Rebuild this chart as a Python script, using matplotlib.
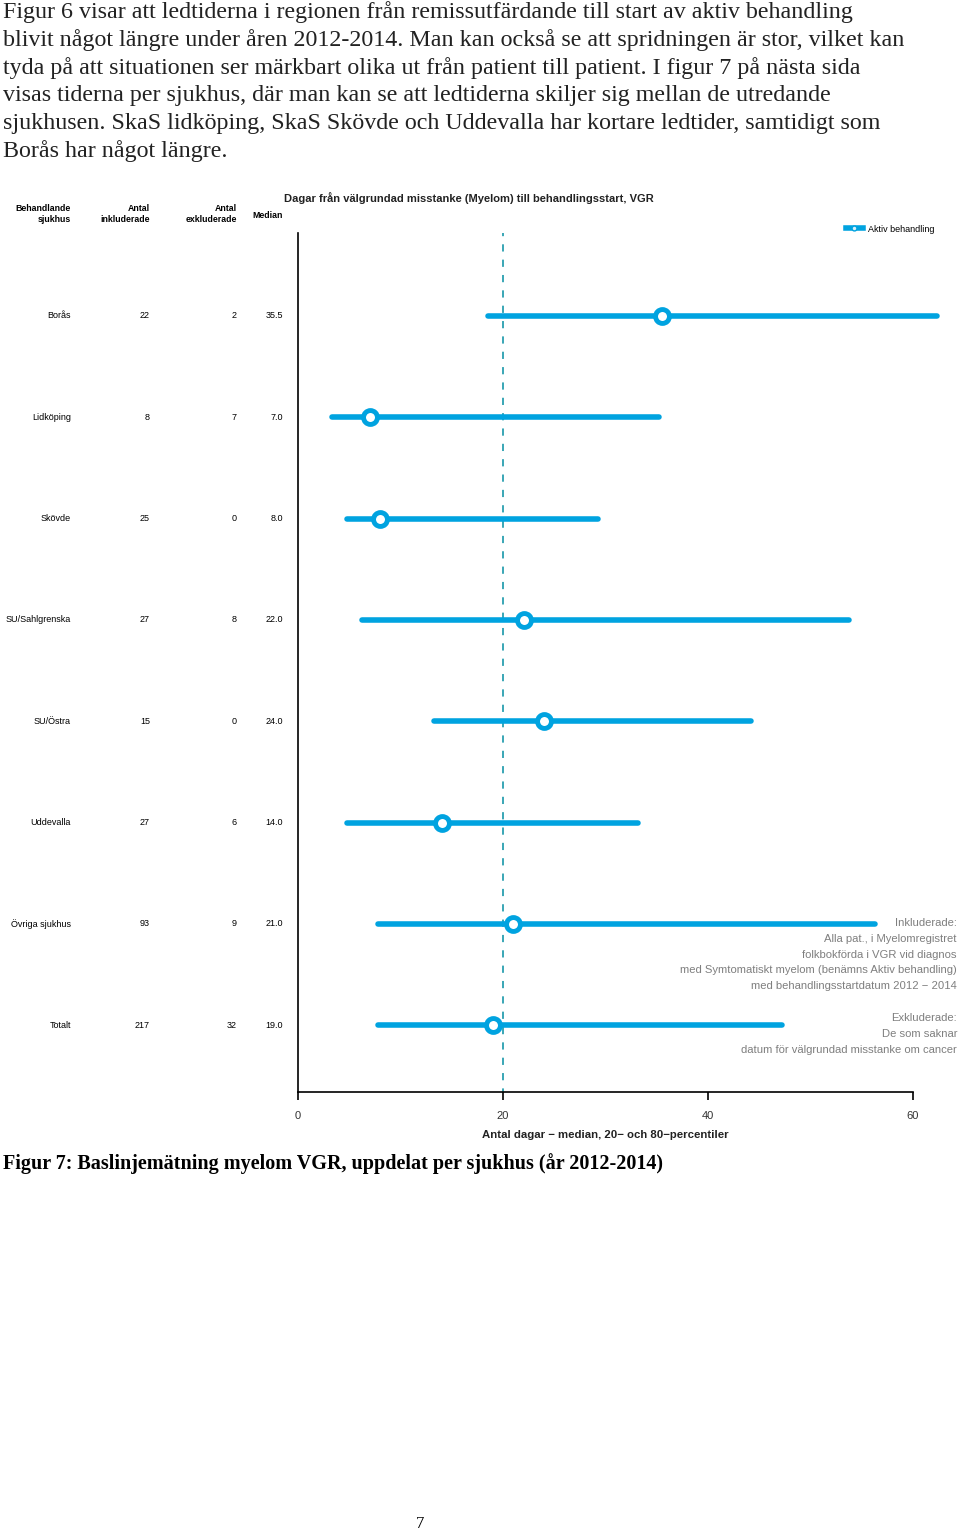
import numpy as np
import matplotlib.pyplot as plt
from matplotlib.lines import Line2D
from matplotlib.transforms import blended_transform_factory

# data
hospitals = ['Borås', 'Lidköping', 'Skövde', 'SU/Sahlgrenska', 'SU/Östra',
             'Uddevalla', 'Övriga sjukhus', 'Totalt']
n_incl = [22, 8, 25, 27, 15, 27, 93, 217]
n_excl = [2, 7, 0, 8, 0, 6, 9, 32]
median = [35.5, 7.0, 8.0, 22.0, 24.0, 14.0, 21.0, 19.0]
p20 = [18.5, 3.3, 4.8, 6.2, 13.3, 4.8, 7.8, 7.8]
p80 = [62.3, 35.2, 29.3, 53.8, 44.2, 33.2, 56.3, 47.2]
target = 20
xticks = [0, 20, 40, 60]

W, H = 960, 1534
blue = '#00a3e0'
teal = '#2a9fb0'
grey = '#7f7f7f'

plt.rcParams['font.family'] = ['Liberation Sans', 'DejaVu Sans']
fig = plt.figure(figsize=(W / 100, H / 100), dpi=100)

def fx(px):
    return px / W

def fy(py):
    return 1 - py / H

# page text above the chart
body = ["Figur 6 visar att ledtiderna i regionen från remissutfärdande till start av aktiv behandling",
        "blivit något längre under åren 2012-2014. Man kan också se att spridningen är stor, vilket kan",
        "tyda på att situationen ser märkbart olika ut från patient till patient. I figur 7 på nästa sida",
        "visas tiderna per sjukhus, där man kan se att ledtiderna skiljer sig mellan de utredande",
        "sjukhusen. SkaS lidköping, SkaS Skövde och Uddevalla har kortare ledtider, samtidigt som",
        "Borås har något längre."]
for i, line in enumerate(body):
    fig.text(fx(3), fy(12 + i * 27.8), line, family='Liberation Serif', fontsize=17.25,
             va='center', ha='left', color='#222222')

fig.text(fx(3), fy(1164), "Figur 7: Baslinjemätning myelom VGR, uppdelat per sjukhus (år 2012-2014)",
         family='Liberation Serif', fontsize=14.5, fontweight='bold', va='center', ha='left')
fig.text(fx(420), fy(1524), "7", family='Liberation Serif', fontsize=12, va='center', ha='center')

# chart axes
x0px, scale = 298, 10.25
left_px, right_px, top_px, bot_px = 298, 945, 233, 1092
ax = fig.add_axes([fx(left_px), fy(bot_px), fx(right_px - left_px), (bot_px - top_px) / H])
ax.set_xlim(0, (right_px - x0px) / scale)
row0, rstep = 316, 101.3
ax.set_ylim((bot_px - row0) / rstep, (top_px - row0) / rstep)

y = np.arange(len(hospitals))
ax.axvline(target, color=teal, lw=1.3, ls=(2, (4, 4.5)), zorder=1)
ax.hlines(y, p20, p80, color=blue, lw=4, capstyle='round', zorder=2)
ax.plot(median, y, 'o', ms=10, mfc='white', mec=blue, mew=3.5, zorder=3, clip_on=False)

for s in ['top', 'right']:
    ax.spines[s].set_visible(False)
ax.spines['bottom'].set_bounds(0, 60)
ax.spines['left'].set_linewidth(1.2)
ax.spines['bottom'].set_linewidth(1.2)
ax.set_yticks([])
ax.set_xticks(xticks)
ax.tick_params(axis='x', length=6, width=1.2, pad=8, labelsize=8, labelcolor='#333333')
ax.set_xlabel("Antal dagar − median, 20− och 80−percentiler", fontsize=8.2,
              fontweight='bold', color='#222222', labelpad=6)
ax.xaxis.label.set_x((x0px + 30 * scale - left_px) / (right_px - left_px))

ax.legend(handles=[Line2D([], [], color=blue, lw=4, marker='o', ms=3.5, mfc='#d8f0fa', mec=blue, mew=1)],
          labels=['Aktiv behandling'], loc='center right', frameon=False, fontsize=6.5,
          handlelength=1.9, handletextpad=0.6,
          bbox_to_anchor=(fx(943), fy(229)), bbox_transform=fig.transFigure)

# table to the left of the chart
tr = blended_transform_factory(fig.transFigure, ax.transData)
tsize = 6.5
for i in range(len(hospitals)):
    ax.text(fx(71), y[i], hospitals[i], transform=tr, ha='right', va='center', fontsize=tsize, clip_on=False)
    ax.text(fx(150), y[i], str(n_incl[i]), transform=tr, ha='right', va='center', fontsize=tsize, clip_on=False)
    ax.text(fx(237), y[i], str(n_excl[i]), transform=tr, ha='right', va='center', fontsize=tsize, clip_on=False)
    ax.text(fx(283), y[i], "%.1f" % median[i], transform=tr, ha='right', va='center', fontsize=tsize, clip_on=False)

hdr = dict(fontsize=6.3, fontweight='bold', va='center', linespacing=1.2)
fig.text(fx(71), fy(214), "Behandlande\nsjukhus", ha='right', multialignment='right', **hdr)
fig.text(fx(150), fy(214), "Antal\ninkluderade", ha='right', multialignment='right', **hdr)
fig.text(fx(237), fy(214), "Antal\nexkluderade", ha='right', multialignment='right', **hdr)
fig.text(fx(283), fy(216), "Median", ha='right', **hdr)

fig.text(fx(284), fy(198), "Dagar från välgrundad misstanke (Myelom) till behandlingsstart, VGR",
         fontsize=8.05, fontweight='bold', color='#222222', ha='left', va='center')

# notes at the lower right
notes1 = ["Inkluderade:", "Alla pat., i Myelomregistret", "folkbokförda i VGR vid diagnos",
          "med Symtomatiskt myelom (benämns Aktiv behandling)", "med behandlingsstartdatum 2012 − 2014"]
notes2 = ["Exkluderade:", "De som saknar", "datum för välgrundad misstanke om cancer"]
for i, t in enumerate(notes1):
    fig.text(fx(957), fy(923 + i * 15.8), t, ha='right', va='center', fontsize=8.1, color=grey)
for i, t in enumerate(notes2):
    fig.text(fx(957), fy(1018 + i * 15.8), t, ha='right', va='center', fontsize=8.1, color=grey)

fig.savefig('out.png', dpi=100)
